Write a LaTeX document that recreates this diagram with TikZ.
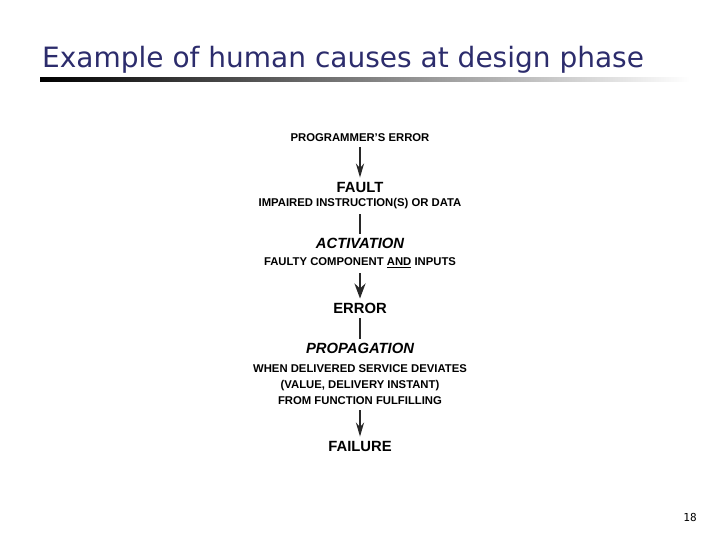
\documentclass[tikz,border=0pt]{standalone}
\usepackage{fontspec}
\setmainfont{Liberation Sans}
\newfontfamily\titlefont{DejaVu Sans}
\newfontfamily\pagefont{DejaVu Sans Mono}
\usetikzlibrary{arrows.meta}
\definecolor{titleblue}{RGB}{44,44,108}
\definecolor{linkgrey}{RGB}{40,40,40}
\tikzset{
  small/.style={font=\fontsize{11.3}{16}\selectfont\bfseries, inner sep=2pt},
  big/.style={font=\fontsize{14.8}{17}\selectfont\bfseries, inner sep=2pt},
  bigit/.style={big, font=\fontsize{14.8}{17}\selectfont\bfseries\itshape},
  link/.style={draw=linkgrey, line width=2.6pt, shorten <=3pt, shorten >=2pt},
}
\begin{document}
\begin{tikzpicture}[x=1pt, y=-1pt, >={Stealth[length=14pt,width=8pt]}]
 \useasboundingbox (0,0) rectangle (720,540);
 \node[anchor=base west, inner sep=0, text=titleblue, font=\titlefont\fontsize{28}{32}\selectfont] (title) at (42,68) {Example of human causes at design phase};
 \shade[left color=black, right color=white] (40,78) rectangle (690,82);
 % chain of causes
 \node[small] (prog) at (360,138) {PROGRAMMER'S ERROR};
 \node[big] (fault) at (360,187) {FAULT};
 \node[small] (faultd) at (360,204) {IMPAIRED INSTRUCTION(S) OR DATA};
 \node[bigit] (activ) at (360,243) {ACTIVATION};
 \node[small] (activd) at (360,263) {FAULTY COMPONENT \underline{AND} INPUTS};
 \node[big] (error) at (360,308) {ERROR};
 \node[bigit] (propag) at (360,348) {PROPAGATION};
 \node[small, align=center] (propd) at (360,385) {WHEN DELIVERED SERVICE DEVIATES\\(VALUE, DELIVERY INSTANT)\\FROM FUNCTION FULFILLING};
 \node[big] (failure) at (360,446) {FAILURE};
 \draw[link,->] (prog) -- (fault);
 \draw[link] (faultd) -- (activ);
 \draw[link,-{Stealth[length=15pt,width=11pt]}] (activd) -- (error);
 \draw[link] (error) -- (propag);
 \draw[link,->] (propd) -- (failure);
 \node[font=\pagefont\fontsize{11}{13}\selectfont] (page) at (690,517) {18};
\end{tikzpicture}
\end{document}
